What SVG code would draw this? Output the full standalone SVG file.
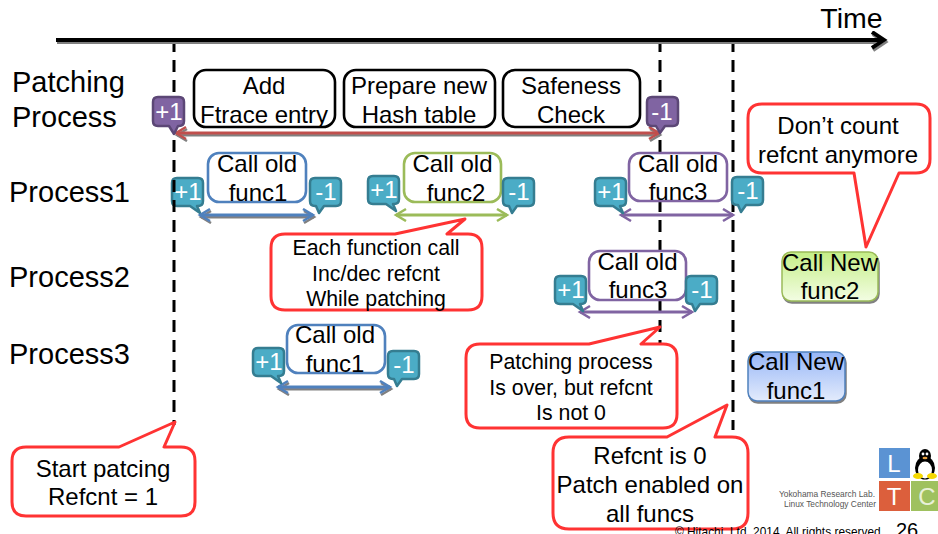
<svg xmlns="http://www.w3.org/2000/svg" width="938" height="534" viewBox="0 0 938 534">
<style>
text{font-family:"Liberation Sans",Arial,sans-serif;fill:#000;text-anchor:middle}
.t24{font-size:24px}
.t20{font-size:21.3px}
.lab{font-size:29px;text-anchor:start}
.box{fill:#fff;stroke-width:2.6}
.k{stroke:#000}.b{stroke:#4f81bd}.g{stroke:#9bbb59}.p{stroke:#8064a2}
.badge{font-size:24px;fill:#fff}
.call{fill:#fff;stroke:#ff3333;stroke-width:3;stroke-linejoin:round}
.dash{stroke:#000;stroke-width:3;stroke-dasharray:12 8;fill:none}
.arr{fill:none;stroke-width:3}
.teal{fill:#4bacc6;stroke:#357d91;stroke-width:2.5;stroke-linejoin:round}
.pur{fill:#8064a2;stroke:#5c4776;stroke-width:2.5;stroke-linejoin:round}
.sq{font-size:24px;fill:#fff}
</style>
<defs>
<linearGradient id="gg" x1="0" y1="0" x2="0" y2="1"><stop offset="0" stop-color="#c4ee86"/><stop offset="1" stop-color="#f3fde3"/></linearGradient>
<linearGradient id="gb" x1="0" y1="0" x2="0" y2="1"><stop offset="0" stop-color="#96b6f7"/><stop offset="1" stop-color="#e3ebfc"/></linearGradient>
<filter id="sh" filterUnits="userSpaceOnUse" x="0" y="0" width="938" height="534"><feDropShadow dx="1" dy="2" stdDeviation="0.6" flood-color="#808080"/></filter>
<marker id="mk" markerUnits="userSpaceOnUse" markerWidth="22" markerHeight="22" refX="15" refY="9" orient="auto-start-reverse"><path d="M3 1L15 9L3 17" fill="none" stroke="#000" stroke-width="4"/></marker>
<marker id="mr" markerUnits="userSpaceOnUse" markerWidth="16" markerHeight="16" refX="12" refY="7" orient="auto-start-reverse"><path d="M2 1L12 7L2 13" fill="none" stroke="#c0504d" stroke-width="2.5"/></marker>
<marker id="mb" markerUnits="userSpaceOnUse" markerWidth="16" markerHeight="16" refX="12" refY="7" orient="auto-start-reverse"><path d="M2 1L12 7L2 13" fill="none" stroke="#4f81bd" stroke-width="2.5"/></marker>
<marker id="mg" markerUnits="userSpaceOnUse" markerWidth="16" markerHeight="16" refX="12" refY="7" orient="auto-start-reverse"><path d="M2 1L12 7L2 13" fill="none" stroke="#9bbb59" stroke-width="2.5"/></marker>
<marker id="mp" markerUnits="userSpaceOnUse" markerWidth="16" markerHeight="16" refX="12" refY="7" orient="auto-start-reverse"><path d="M2 1L12 7L2 13" fill="none" stroke="#8064a2" stroke-width="2.5"/></marker>
<path id="bp" d="M5 0H26Q31 0 31 5V23Q31 28 26 28H25L28 35L18 28H5Q0 28 0 23V5Q0 0 5 0Z"/>
<path id="bm" d="M5 0H26Q31 0 31 5V23Q31 28 26 28H14L9 35L6 28H5Q0 28 0 23V5Q0 0 5 0Z"/>
<path id="ppi" d="M5 0H26Q31 0 31 5V24Q31 29 26 29H25L21 37L16 29H5Q0 29 0 24V5Q0 0 5 0Z"/>
<path id="ppd" d="M5 0H26Q31 0 31 5V24Q31 29 26 29H18L13 36L9 29H5Q0 29 0 24V5Q0 0 5 0Z"/>
</defs>

<g id="badge-p1-inc-1"><use href="#bp" x="172" y="178" class="teal"/><text class="badge" x="188" y="200">+1</text></g>

<g id="connectors">
<path class="dash" d="M174 40V425"/>
<path class="dash" d="M660 40V345"/>
<path class="dash" d="M733 40V430"/>
<path d="M56 40H884" fill="none" stroke="#000" stroke-width="4" marker-end="url(#mk)" filter="url(#sh)"/>
<path class="arr" d="M176 133H659" stroke="#c0504d" marker-start="url(#mr)" marker-end="url(#mr)" filter="url(#sh)"/>
<path class="arr" d="M200 215H313" stroke="#4f81bd" marker-start="url(#mb)" marker-end="url(#mb)" filter="url(#sh)"/>
<path class="arr" d="M396 215H507" stroke="#9bbb59" marker-start="url(#mg)" marker-end="url(#mg)"/>
<path class="arr" d="M621 215H733" stroke="#8064a2" marker-start="url(#mp)" marker-end="url(#mp)"/>
<path class="arr" d="M580 312H692" stroke="#8064a2" marker-start="url(#mp)" marker-end="url(#mp)"/>
<path class="arr" d="M278 387H390" stroke="#4f81bd" marker-start="url(#mb)" marker-end="url(#mb)" filter="url(#sh)"/>
</g>

<g id="time"><text x="851.5" y="28" style="font-size:28.5px">Time</text></g>
<g id="label-patching"><text class="lab" x="12" y="92">Patching</text><text class="lab" x="12" y="127">Process</text></g>
<g id="label-process1"><text class="lab" x="9" y="202">Process1</text></g>
<g id="label-process2"><text class="lab" x="9" y="287">Process2</text></g>
<g id="label-process3"><text class="lab" x="9" y="364">Process3</text></g>

<g id="step-add"><rect class="box k" x="194" y="70" width="141" height="57" rx="12"/><text class="t24" x="264" y="94">Add</text><text class="t24" x="264" y="123">Ftrace entry</text></g>
<g id="step-prepare"><rect class="box k" x="344" y="70" width="151" height="57" rx="12"/><text class="t24" x="419" y="94">Prepare new</text><text class="t24" x="419" y="123">Hash table</text></g>
<g id="step-safeness"><rect class="box k" x="503" y="70" width="137" height="57" rx="12"/><text class="t24" x="571" y="94">Safeness</text><text class="t24" x="571" y="123">Check</text></g>

<g id="badge-patch-inc"><use href="#ppi" x="153" y="97" class="pur"/><text class="badge" x="169" y="120">+1</text></g>
<g id="badge-patch-dec"><use href="#ppd" x="647" y="97" class="pur"/><text class="badge" x="662" y="120">-1</text></g>

<g id="p1-func1"><rect class="box b" x="208" y="153" width="98" height="49" rx="11"/><text class="t24" x="257" y="172">Call old</text><text class="t24" x="258" y="201">func1</text></g>
<g id="badge-p1-dec-1"><use href="#bm" x="310" y="178" class="teal"/><text class="badge" x="326" y="200">-1</text></g>
<g id="badge-p1-inc-2"><use href="#bp" x="368" y="176" class="teal"/><text class="badge" x="384" y="198">+1</text></g>
<g id="p1-func2"><rect class="box g" x="404" y="153" width="97" height="49" rx="11"/><text class="t24" x="452.5" y="172">Call old</text><text class="t24" x="456" y="201">func2</text></g>
<g id="badge-p1-dec-2"><use href="#bm" x="503" y="178" class="teal"/><text class="badge" x="519" y="200">-1</text></g>
<g id="badge-p1-inc-3"><use href="#bp" x="595" y="178" class="teal"/><text class="badge" x="611" y="200">+1</text></g>
<g id="p1-func3"><rect class="box p" x="629" y="153" width="98" height="48" rx="11"/><text class="t24" x="678" y="172">Call old</text><text class="t24" x="678" y="200">func3</text></g>
<g id="badge-p1-dec-3"><use href="#bm" x="732" y="177" class="teal"/><text class="badge" x="748" y="199">-1</text></g>

<g id="badge-p2-inc"><use href="#bp" x="555" y="276" class="teal"/><text class="badge" x="571" y="298">+1</text></g>
<g id="p2-func3"><rect class="box p" x="589" y="251" width="97" height="49" rx="11"/><text class="t24" x="637.5" y="270">Call old</text><text class="t24" x="638" y="298">func3</text></g>
<g id="badge-p2-dec"><use href="#bm" x="686" y="276" class="teal"/><text class="badge" x="702" y="298">-1</text></g>

<g id="badge-p3-inc"><use href="#bp" x="253" y="348" class="teal"/><text class="badge" x="269" y="370">+1</text></g>
<g id="p3-func1"><rect class="box b" x="287" y="325" width="98" height="48" rx="11"/><text class="t24" x="335" y="343">Call old</text><text class="t24" x="335" y="372">func1</text></g>
<g id="badge-p3-dec"><use href="#bm" x="388" y="351" class="teal"/><text class="badge" x="404" y="373">-1</text></g>

<g id="new-func2"><rect x="782" y="252" width="96" height="49" rx="9" fill="url(#gg)" stroke="#9bbb59" stroke-width="1.5" filter="url(#sh)"/><text class="t24" x="830" y="271">Call New</text><text class="t24" x="830" y="299">func2</text></g>
<g id="new-func1"><rect x="748" y="352" width="97" height="49" rx="9" fill="url(#gb)" stroke="#4f81bd" stroke-width="1.5" filter="url(#sh)"/><text class="t24" x="796" y="370">Call New</text><text class="t24" x="796" y="399">func1</text></g>

<g id="callout-each"><path class="call" d="M285 234H395L465 219L447 234H468Q482 234 482 248V296Q482 310 468 310H285Q271 310 271 296V248Q271 234 285 234Z"/><text class="t20" x="376" y="255">Each function call</text><text class="t20" x="376" y="281">Inc/dec refcnt</text><text class="t20" x="376" y="306">While patching</text></g>
<g id="callout-over"><path class="call" d="M480 344H589L660 327L641 344H663Q677 344 677 358V414Q677 428 663 428H480Q466 428 466 414V358Q466 344 480 344Z"/><text class="t20" x="571" y="369">Patching process</text><text class="t20" x="571" y="395">Is over, but refcnt</text><text class="t20" x="571" y="420">Is not 0</text></g>
<g id="callout-start"><path class="call" d="M26 447H119L175 422L164 447H181Q195 447 195 461V502Q195 516 181 516H26Q12 516 12 502V461Q12 447 26 447Z"/><text class="t24" x="103" y="477">Start patcing</text><text class="t24" x="103" y="505">Refcnt = 1</text></g>
<g id="callout-zero"><path class="call" d="M569 437H667L727 405L715 437H732Q748 437 748 453V513Q748 529 732 529H569Q553 529 553 513V453Q553 437 569 437Z"/><text class="t24" x="650" y="464">Refcnt is 0</text><text class="t24" x="650" y="493">Patch enabled on</text><text class="t24" x="650" y="522">all funcs</text></g>
<g id="callout-dont"><path class="call" d="M762 104H916Q930 104 930 118V159Q930 173 916 173H899L866 247L854 173H762Q748 173 748 159V118Q748 104 762 104Z"/><text class="t24" x="838" y="134">Don’t count</text><text class="t24" x="838" y="163">refcnt anymore</text></g>

<g id="logo">
<rect x="879" y="448" width="31" height="30" fill="#5b93d3"/><text class="sq" x="894" y="472">L</text>
<rect x="879" y="481" width="31" height="30" fill="#dc5f3c"/><text class="sq" x="894" y="505">T</text>
<rect x="911" y="481" width="27" height="30" fill="#9fc15f"/><text class="sq" x="927" y="505" style="fill:#e8f0d8">C</text>
<ellipse cx="925" cy="468" rx="10" ry="11.5" fill="#000"/>
<ellipse cx="925" cy="456" rx="6" ry="7" fill="#000"/>
<ellipse cx="925" cy="470" rx="7" ry="8.5" fill="#fff"/>
<circle cx="923" cy="454" r="1.4" fill="#fff"/><circle cx="927" cy="454" r="1.4" fill="#fff"/>
<ellipse cx="925" cy="458" rx="2.5" ry="1.3" fill="#e8a040"/>
<ellipse cx="918" cy="476" rx="5" ry="3" fill="#f5d800"/><ellipse cx="932" cy="476" rx="5" ry="3" fill="#f5d800"/>
</g>
<g id="footer">
<text x="875" y="497" style="font-size:8.4px;fill:#555;text-anchor:end">Yokohama Research Lab.</text>
<text x="876" y="507" style="font-size:8.4px;fill:#555;text-anchor:end">Linux Technology Center</text>
<text x="884" y="536" style="font-size:11.9px;text-anchor:end">© Hitachi, Ltd. 2014. All rights reserved.</text>
<text x="907" y="537" style="font-size:20px">26</text>
</g>
</svg>
